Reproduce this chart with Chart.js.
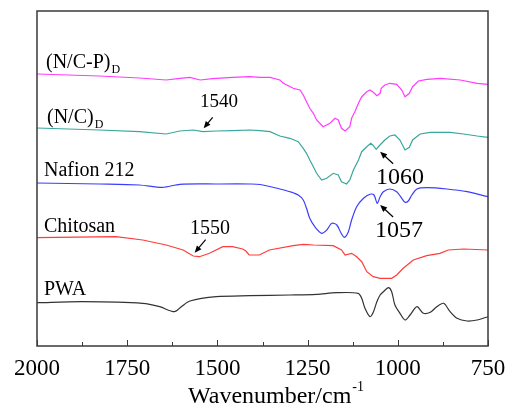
<!DOCTYPE html>
<html lang="en">
<head>
<meta charset="UTF-8">
<title>FTIR spectra</title>
<script src="https://cdn.jsdelivr.net/npm/chart.js"></script>
<style>
    html, body { margin: 0; padding: 0; background: #fff; }
    #wrap { width: 507px; height: 406px; }
</style>
</head>
<body>
<div id="wrap"><canvas id="ftir"></canvas></div>
<script>
    // x axis ticks (wavenumber, reversed)
    const xTicks = [2000, 1750, 1500, 1250, 1000, 750];

    // PWA (black)
    const pwaWn = [2000,1873,1707,1660,1619,1600,1576,1503,1410,1299,1225,1170,1110,1100,1091,1077,1068,1058,1049,1040,1026,1017,1008,994,980,966,947,929,910,892,873,855,836,808,780,750];
    const pwaVal = [43.3,44.3,42.7,39.3,34.3,39.3,45,49.3,50.3,51,51.7,53.3,52.7,47.7,37.7,29.3,33.7,44.3,51,54.3,58.3,54.3,41,32.7,26,31,39.3,32.7,33.7,39.3,42.7,34.3,27.7,25,26,29.3];

    // Chitosan (red)
    const chiWn = [2000,1781,1707,1642,1595,1567,1550,1522,1485,1458,1430,1421,1412,1384,1356,1290,1262,1234,1179,1156,1146,1128,1114,1100,1086,1068,1049,1017,1003,985,957,920,883,860,818,750];
    const chiVal = [108.3,109.3,106,101,96,90,89.3,92.7,99.3,99.3,97,95,91,91,96,100.3,101.7,101,100.3,96,91,92.7,89.3,84.3,74.3,69.3,67.7,67.7,71,77.7,86,90.3,92.7,96,97,96];

    // Nafion 212 (blue)
    const nafWn = [2000,1827,1716,1652,1604,1500,1410,1382,1327,1299,1276,1262,1253,1244,1230,1211,1197,1183,1169,1157,1148,1137,1128,1114,1095,1077,1066,1057,1049,1040,1022,1003,989,980,971,961,947,919,864,808,750];
    const nafVal = [163,162,161,158.7,161.7,162,162,161.5,157,154.3,151,146,137.7,127.7,119.3,112.7,116,122.7,121,112.7,108.7,114.3,126,139.3,147.7,151.7,151,142.7,149.3,154.3,157,154.3,147.7,143.7,145,151,157,158.3,157,154.3,149.3];

    // (N/C)D (teal)
    const ncWn = [2000,1827,1716,1642,1604,1567,1540,1503,1458,1410,1382,1354,1327,1299,1276,1262,1253,1244,1234,1225,1211,1197,1179,1165,1156,1142,1133,1123,1109,1100,1086,1075,1068,1060,1052,1036,1022,1008,994,980,968,959,938,910,855,818,780,750];
    const ncVal = [218,216,214.3,212,215,216,214.3,215,215.3,216,215.3,214.3,210,207.7,204.3,197.7,192.7,186,179.3,172.7,166,167.7,172.7,171,164.3,162,166,176,186,194.3,199.3,202.7,200.5,196.7,200,206,210,211,206,196,198.7,206,212,213.7,213.7,212,210,208.7];

    // (N/C-P)D (magenta)
    const ncpWn = [2000,1827,1716,1642,1604,1576,1548,1513,1458,1410,1382,1354,1327,1317,1290,1271,1262,1253,1244,1234,1225,1207,1188,1174,1165,1156,1146,1133,1128,1119,1109,1100,1086,1077,1068,1058,1049,1046,1036,1022,1003,989,980,968,959,943,919,882,827,780,750];
    const ncpVal = [272,270,268,266,267.7,268.7,266,267.3,268.7,269.3,268.7,268.7,266,262.7,257.7,256,251,244.3,237.7,232.7,226,219.3,222.7,227.7,226,217.7,215,219.3,227.7,234.3,242.7,249.3,254.3,256,253.7,250.3,252.7,257.7,261,262.7,261.7,256,249.3,252.7,259.3,265,266.7,267.7,266,262.7,261.7];

    function pts(wn, val) {
        return wn.map((w, i) => ({ x: w, y: val[i] }));
    }

    const serif = "'Liberation Serif', 'Times New Roman', serif";

    // labels next to each trace, with optional subscript
    const traceLabels = [
        { text: '(N/C-P)', sub: 'D', x: 46, y: 68, size: 20 },
        { text: '(N/C)', sub: 'D', x: 47, y: 123, size: 20 },
        { text: 'Nafion 212', sub: '', x: 44, y: 176, size: 20 },
        { text: 'Chitosan', sub: '', x: 44, y: 232, size: 20 },
        { text: 'PWA', sub: '', x: 44, y: 295, size: 20 }
    ];

    // peak markers: arrow tip at (wn, val), tail offset, text spot
    const peakNotes = [
        { text: '1540', wn: 1538, val: 217.7, dx: 9, dy: -11, tx: 200, ty: 107, size: 19 },
        { text: '1550', wn: 1563, val: 93.3, dx: 11, dy: -13, tx: 190, ty: 234, size: 20 },
        { text: '1060', wn: 1049, val: 194.3, dx: 13, dy: 12, tx: 376, ty: 184, size: 24 },
        { text: '1057', wn: 1049, val: 141, dx: 13, dy: 12, tx: 375, ty: 237, size: 24 }
    ];

    function arrow(ctx, x1, y1, x2, y2) {
        const ang = Math.atan2(y2 - y1, x2 - x1);
        const hl = 7, hw = 3;
        ctx.beginPath();
        ctx.moveTo(x1, y1);
        ctx.lineTo(x2 - Math.cos(ang) * hl * 0.8, y2 - Math.sin(ang) * hl * 0.8);
        ctx.stroke();
        ctx.beginPath();
        ctx.moveTo(x2, y2);
        ctx.lineTo(x2 - Math.cos(ang) * hl + Math.sin(ang) * hw, y2 - Math.sin(ang) * hl - Math.cos(ang) * hw);
        ctx.lineTo(x2 - Math.cos(ang) * hl - Math.sin(ang) * hw, y2 - Math.sin(ang) * hl + Math.cos(ang) * hw);
        ctx.closePath();
        ctx.fill();
    }

    const decor = {
        id: 'decor',
        afterDraw(chart) {
            const ctx = chart.ctx;
            const a = chart.chartArea;
            const xs = chart.scales.x, ys = chart.scales.y;
            ctx.save();

            // frame
            ctx.strokeStyle = '#3a3a3a';
            ctx.lineWidth = 1.5;
            ctx.strokeRect(a.left, a.top, a.right - a.left, a.bottom - a.top);

            // inward ticks, major + minor
            ctx.lineWidth = 1;
            for (let v = 750; v <= 2000; v += 125) {
                const px = Math.round(xs.getPixelForValue(v)) + 0.5;
                const len = (v % 250 === 0) ? 6 : 4;
                ctx.beginPath();
                ctx.moveTo(px, a.bottom);
                ctx.lineTo(px, a.bottom - len);
                ctx.stroke();
            }

            ctx.fillStyle = '#000';
            ctx.textBaseline = 'alphabetic';
            ctx.textAlign = 'left';

            // trace labels
            traceLabels.forEach(l => {
                ctx.font = l.size + 'px ' + serif;
                ctx.fillText(l.text, l.x, l.y);
                if (l.sub) {
                    const w = ctx.measureText(l.text).width;
                    ctx.font = '12px ' + serif;
                    ctx.fillText(l.sub, l.x + w + 1, l.y + 5);
                }
            });

            // peak notes
            ctx.strokeStyle = '#000';
            ctx.lineWidth = 1.2;
            peakNotes.forEach(n => {
                ctx.font = n.size + 'px ' + serif;
                ctx.fillText(n.text, n.tx, n.ty);
                const x2 = xs.getPixelForValue(n.wn), y2 = ys.getPixelForValue(n.val);
                arrow(ctx, x2 + n.dx, y2 + n.dy, x2, y2);
            });

            // axis title with superscript
            ctx.font = '24px ' + serif;
            const t = 'Wavenumber/cm';
            ctx.fillText(t, 188, 403);
            const tw = ctx.measureText(t).width;
            ctx.font = '14px ' + serif;
            ctx.fillText('-1', 188 + tw + 1, 391);

            ctx.restore();
        }
    };

    new Chart(document.getElementById('ftir'), {
        type: 'line',
        data: {
            datasets: [
                { label: '(N/C-P)D', data: pts(ncpWn, ncpVal), borderColor: '#ff3cff' },
                { label: '(N/C)D', data: pts(ncWn, ncVal), borderColor: '#3aa69e' },
                { label: 'Nafion 212', data: pts(nafWn, nafVal), borderColor: '#3c3cff', tension: 0.3 },
                { label: 'Chitosan', data: pts(chiWn, chiVal), borderColor: '#ff3c3c' },
                { label: 'PWA', data: pts(pwaWn, pwaVal), borderColor: '#333333', tension: 0.3 }
            ]
        },
        options: {
            responsive: true,
            maintainAspectRatio: false,
            animation: false,
            datasets: { line: { borderWidth: 1.2, pointRadius: 0, tension: 0, fill: false } },
            layout: { padding: { left: 37, right: 19, top: 11, bottom: 0 } },
            plugins: { legend: { display: false }, tooltip: { enabled: false } },
            scales: {
                x: {
                    type: 'linear',
                    reverse: true,
                    min: 750,
                    max: 2000,
                    border: { display: false },
                    grid: { display: false, drawTicks: false },
                    afterFit(scale) {
                        // keep the plot edges where the layout padding puts them
                        scale.height = 60;
                        scale.paddingLeft = 0;
                        scale.paddingRight = 0;
                    },
                    afterBuildTicks(scale) { scale.ticks = xTicks.map(v => ({ value: v })); },
                    ticks: {
                        autoSkip: false,
                        maxRotation: 0,
                        padding: 9,
                        color: '#000',
                        font: { family: serif, size: 23 },
                        callback: v => String(v)
                    }
                },
                y: {
                    display: false,
                    min: 0,
                    max: 335
                }
            }
        },
        plugins: [decor]
    });
</script>
</body>
</html>
